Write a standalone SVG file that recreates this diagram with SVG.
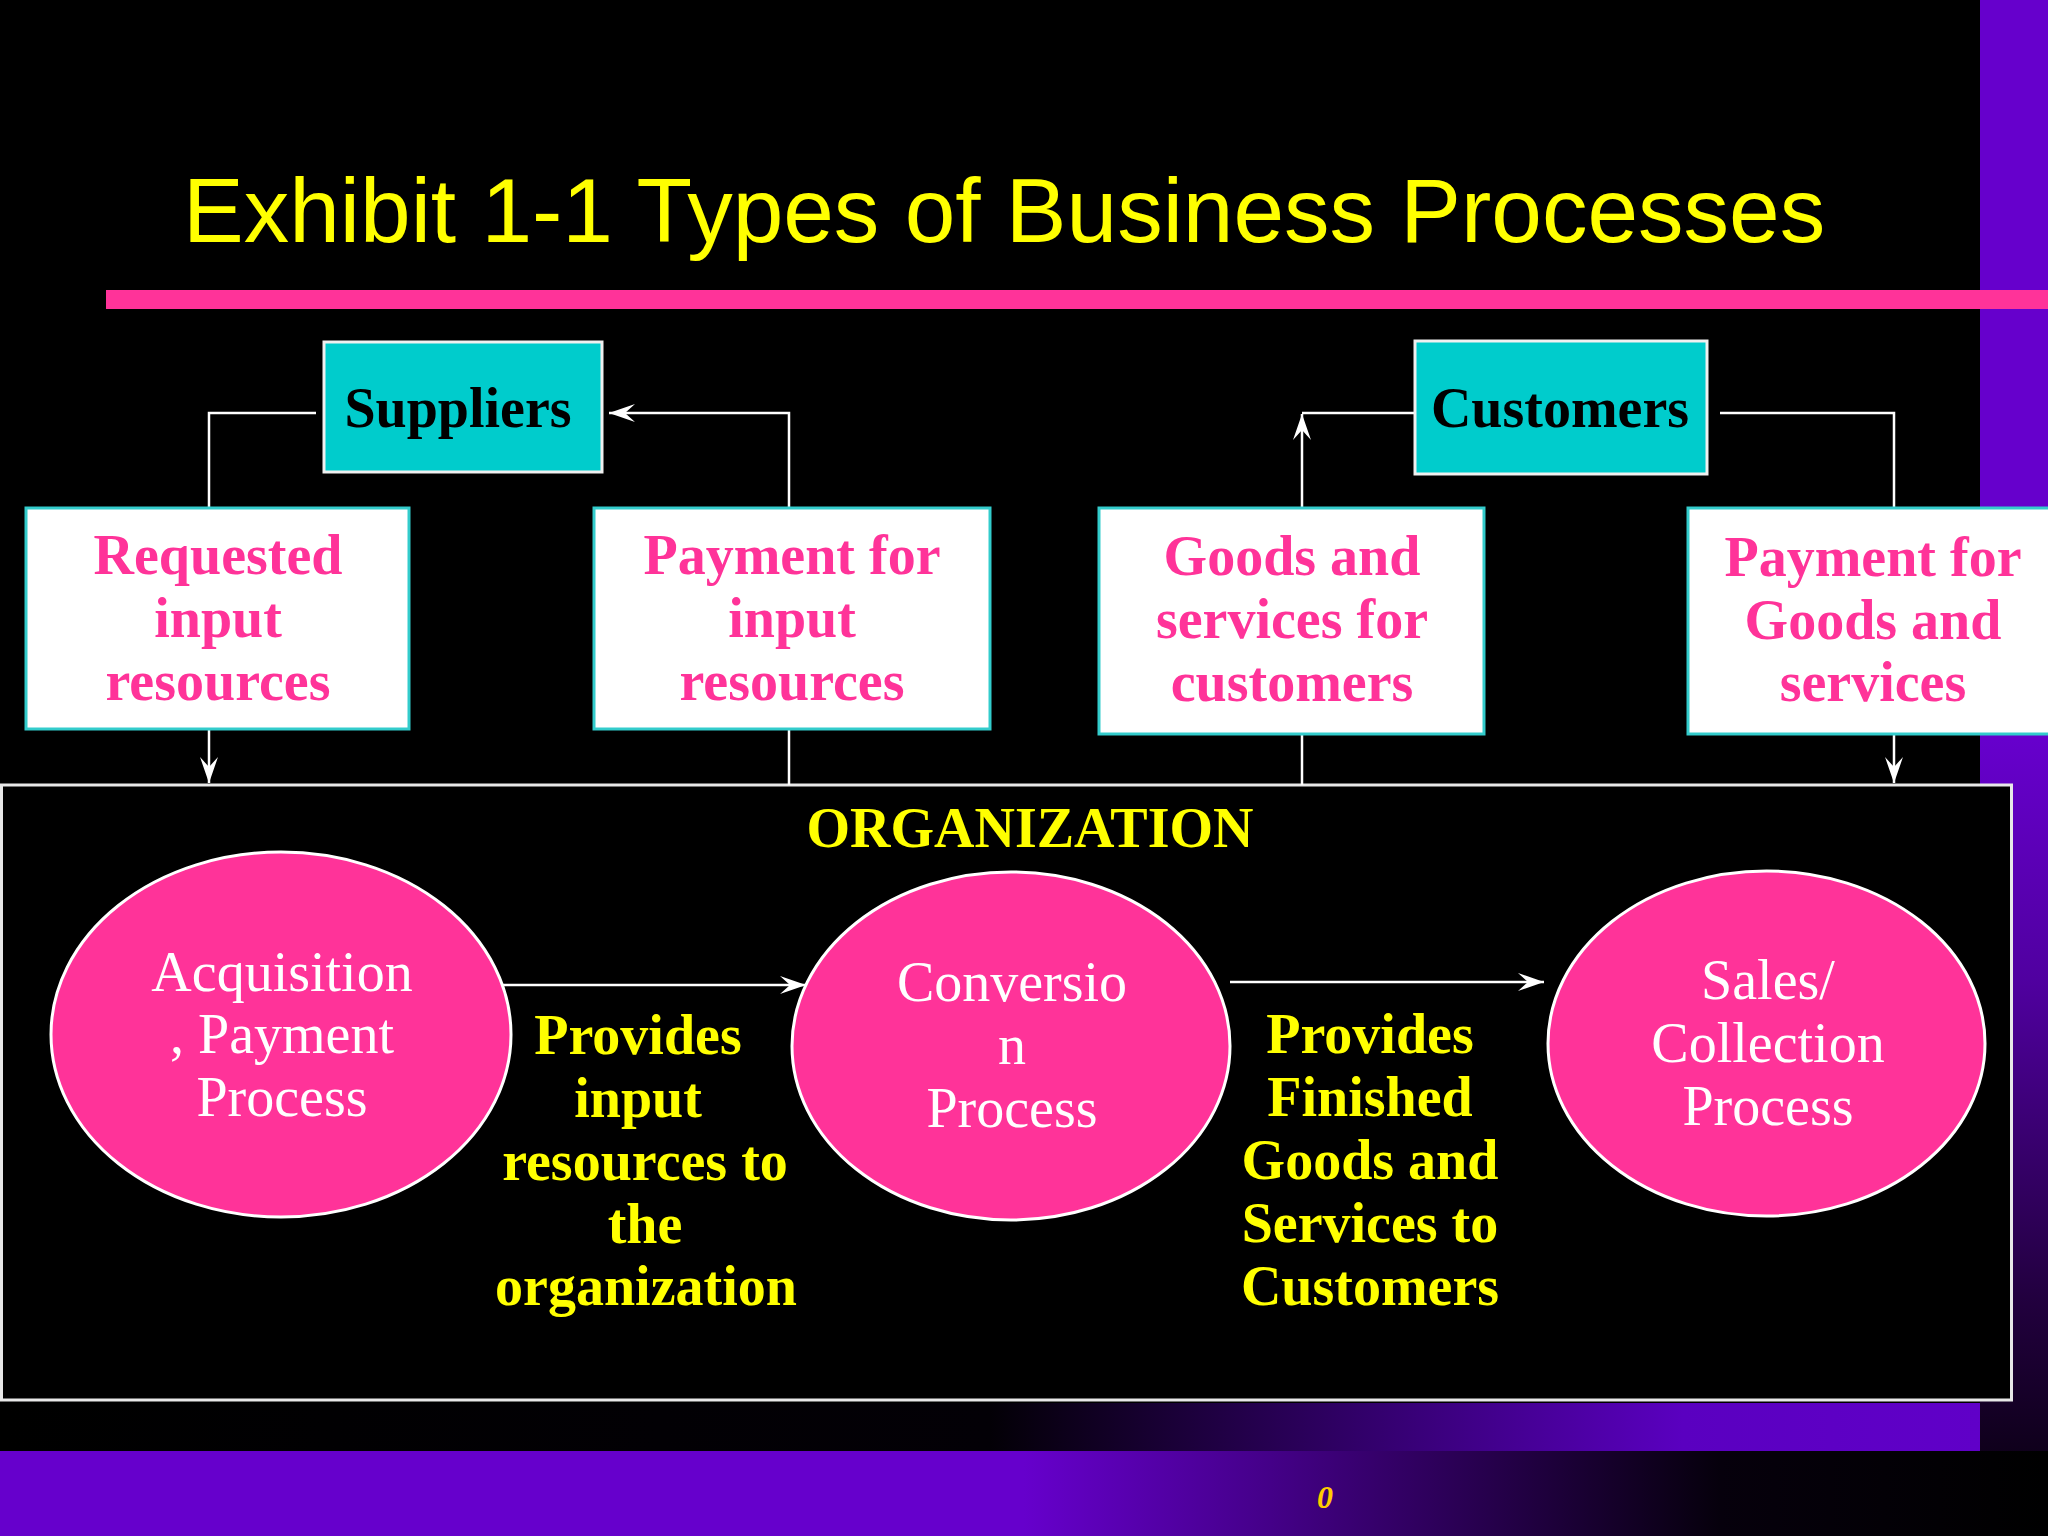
<svg xmlns="http://www.w3.org/2000/svg" width="2048" height="1536" viewBox="0 0 2048 1536">
<style>
.title{font-family:"Liberation Sans",Arial,sans-serif;font-size:91px;fill:#ffff00}
.party{fill:#00cccc;stroke:#f0f0f0;stroke-width:3}
.partyText{font-family:"Liberation Serif","Times New Roman",serif;font-weight:bold;font-size:56px;fill:#000;text-anchor:middle}
.flow{fill:#ffffff;stroke:#33cccc;stroke-width:3}
.flowText{font-family:"Liberation Serif","Times New Roman",serif;font-weight:bold;font-size:56px;fill:#ff3399;text-anchor:middle}
.proc{fill:#ff3399;stroke:#ffffff;stroke-width:3}
.procText{font-family:"Liberation Serif","Times New Roman",serif;font-size:56px;fill:#ffffff;text-anchor:middle}
.note{font-family:"Liberation Serif","Times New Roman",serif;font-weight:bold;font-size:56px;fill:#ffff00;text-anchor:middle}
.conn{fill:none;stroke:#ffffff;stroke-width:2.5}
</style>
<defs>
<marker id="arr" viewBox="-28 -10 30 20" refX="0" refY="0" markerWidth="30" markerHeight="20" markerUnits="userSpaceOnUse" orient="auto">
<path d="M0,0 L-26,-9 L-16,0 L-26,9 Z" fill="#ffffff"/>
</marker>
<linearGradient id="gBottom" gradientUnits="userSpaceOnUse" x1="0" y1="0" x2="2048" y2="0">
<stop offset="0" stop-color="#6600cc"/>
<stop offset="0.5" stop-color="#6600cc"/>
<stop offset="0.84" stop-color="#06000c"/>
<stop offset="1" stop-color="#000000"/>
</linearGradient>
<linearGradient id="gBand" gradientUnits="userSpaceOnUse" x1="0" y1="0" x2="1980" y2="0">
<stop offset="0" stop-color="#000000"/>
<stop offset="0.5" stop-color="#030006"/>
<stop offset="0.85" stop-color="#5a00c0"/>
<stop offset="1" stop-color="#6000c8"/>
</linearGradient>
<linearGradient id="gStrip" gradientUnits="userSpaceOnUse" x1="0" y1="740" x2="0" y2="1536">
<stop offset="0" stop-color="#6600cc"/>
<stop offset="0.3" stop-color="#5000a0"/>
<stop offset="0.7" stop-color="#22003f"/>
<stop offset="1" stop-color="#050008"/>
</linearGradient>
</defs>

<g id="background">
<rect x="0" y="0" width="2048" height="1536" fill="#000000"/>
<rect x="1980" y="0" width="68" height="740" fill="#6600cc"/>
<rect x="1980" y="740" width="68" height="796" fill="url(#gStrip)"/>
<rect x="0" y="1403" width="1980" height="48" fill="url(#gBand)"/>
<rect x="0" y="1451" width="2048" height="85" fill="url(#gBottom)"/>
<rect x="106" y="290" width="1942" height="19" fill="#ff3399"/>
</g>

<text class="title" x="183" y="242">Exhibit 1-1 Types of Business Processes</text>

<g id="organization">
<rect x="1.5" y="785" width="2010" height="615" fill="#000000" stroke="#e8e8e8" stroke-width="3"/>
<text class="note" x="1030" y="847">ORGANIZATION</text>
</g>

<g id="connectors">
<polyline class="conn" points="316,413 209,413 209,507"/>
<line class="conn" x1="209" y1="729" x2="209" y2="783" marker-end="url(#arr)"/>
<line class="conn" x1="789" y1="785" x2="789" y2="729"/>
<polyline class="conn" points="789,507 789,413 609,413" marker-end="url(#arr)"/>
<line class="conn" x1="1302" y1="785" x2="1302" y2="734"/>
<line class="conn" x1="1302" y1="507" x2="1302" y2="414" marker-end="url(#arr)"/>
<line class="conn" x1="1302" y1="413" x2="1415" y2="413"/>
<polyline class="conn" points="1720,413 1894,413 1894,507"/>
<line class="conn" x1="1894" y1="734" x2="1894" y2="783" marker-end="url(#arr)"/>
<line class="conn" x1="483" y1="985" x2="806" y2="985" marker-end="url(#arr)"/>
<line class="conn" x1="1230" y1="982" x2="1544" y2="982" marker-end="url(#arr)"/>
</g>

<g id="suppliers">
<rect class="party" x="324" y="342" width="278" height="130"/>
<text class="partyText" x="458" y="427">Suppliers</text>
</g>
<g id="customers">
<rect class="party" x="1415" y="341" width="292" height="133"/>
<text class="partyText" x="1560" y="427">Customers</text>
</g>

<g id="requested-input">
<rect class="flow" x="26" y="508" width="383" height="221"/>
<text class="flowText" x="218" y="574">Requested</text>
<text class="flowText" x="218" y="637">input</text>
<text class="flowText" x="218" y="700">resources</text>
</g>
<g id="payment-input">
<rect class="flow" x="594" y="508" width="396" height="221"/>
<text class="flowText" x="792" y="574">Payment for</text>
<text class="flowText" x="792" y="637">input</text>
<text class="flowText" x="792" y="700">resources</text>
</g>
<g id="goods-services">
<rect class="flow" x="1099" y="508" width="385" height="226"/>
<text class="flowText" x="1292" y="575">Goods and</text>
<text class="flowText" x="1292" y="638">services for</text>
<text class="flowText" x="1292" y="701">customers</text>
</g>
<g id="payment-goods">
<rect class="flow" x="1688" y="508" width="370" height="226"/>
<text class="flowText" x="1873" y="576">Payment for</text>
<text class="flowText" x="1873" y="639">Goods and</text>
<text class="flowText" x="1873" y="701">services</text>
</g>

<g id="acquisition">
<ellipse class="proc" cx="281" cy="1034.5" rx="230" ry="182.5"/>
<text class="procText" x="282" y="991">Acquisition</text>
<text class="procText" x="282" y="1053">, Payment</text>
<text class="procText" x="282" y="1116">Process</text>
</g>
<g id="conversion">
<ellipse class="proc" cx="1011" cy="1046" rx="219" ry="174"/>
<text class="procText" x="1012" y="1001">Conversio</text>
<text class="procText" x="1012" y="1064">n</text>
<text class="procText" x="1012" y="1127">Process</text>
</g>
<g id="sales">
<ellipse class="proc" cx="1766.5" cy="1043.5" rx="218.5" ry="172.5"/>
<text class="procText" x="1768" y="999">Sales/</text>
<text class="procText" x="1768" y="1062">Collection</text>
<text class="procText" x="1768" y="1125">Process</text>
</g>

<g id="label-input">
<text class="note" x="638" y="1054">Provides</text>
<text class="note" x="638" y="1117">input</text>
<text class="note" x="645" y="1180">resources to</text>
<text class="note" x="645" y="1243">the</text>
<text class="note" x="646" y="1305">organization</text>
</g>
<g id="label-finished">
<text class="note" x="1370" y="1053">Provides</text>
<text class="note" x="1370" y="1116">Finished</text>
<text class="note" x="1370" y="1179">Goods and</text>
<text class="note" x="1370" y="1242">Services to</text>
<text class="note" x="1370" y="1305">Customers</text>
</g>

<text x="1325" y="1508" font-family="Liberation Serif, Times New Roman, serif" font-weight="bold" font-style="italic" font-size="32" fill="#ffcc00" text-anchor="middle">0</text>
</svg>
